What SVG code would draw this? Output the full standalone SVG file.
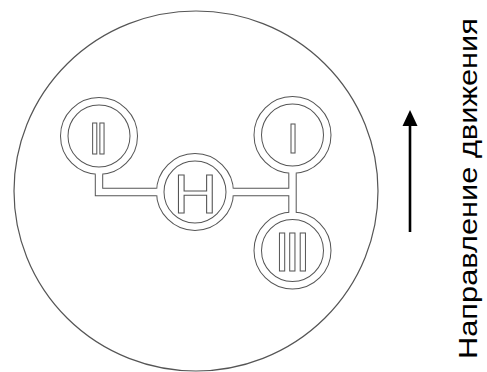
<svg xmlns="http://www.w3.org/2000/svg" width="487" height="372" viewBox="0 0 487 372">
<style>
.ringG{fill:none;stroke:#555;stroke-width:8.5}
.ringW{fill:none;stroke:#fff;stroke-width:6.5}
.conG{fill:none;stroke:#555;stroke-width:8.4;stroke-linejoin:miter}
.conW{fill:none;stroke:#fff;stroke-width:6.4;stroke-linejoin:miter}
.glyph{font-family:"Liberation Sans",Arial,sans-serif;fill:#fff;stroke:#555;stroke-width:1;filter:url(#flat)}
.label{font-family:"Liberation Sans",Arial,sans-serif;font-size:26.5px;fill:#000}
</style>
<defs>
<filter id="flat" x="-30%" y="-30%" width="160%" height="160%"><feOffset dx="0" dy="0"/></filter>
</defs>
<rect width="487" height="372" fill="#fff"/>
<ellipse id="body" cx="196" cy="191" rx="182" ry="180" fill="none" stroke="#555" stroke-width="1.2"/>
<g id="node-II">
<circle class="ringG" cx="99" cy="136" r="34.75"/>
<circle class="ringW" cx="99" cy="136" r="34.75"/>
<text class="glyph" x="88.5 95.8" y="154" font-size="44.7">II</text>
</g>
<g id="node-N">
<circle class="ringG" cx="195" cy="192" r="34.75"/>
<circle class="ringW" cx="195" cy="192" r="34.75"/>
<text class="glyph" transform="translate(195.3,213.3) scale(1.08,1)" x="0" y="0" font-size="56" text-anchor="middle">Н</text>
</g>
<g id="node-I">
<circle class="ringG" cx="292.5" cy="135" r="34.75"/>
<circle class="ringW" cx="292.5" cy="135" r="34.75"/>
<text class="glyph" x="287" y="153.3" font-size="43.3">I</text>
</g>
<g id="node-III">
<circle class="ringG" cx="292.5" cy="250.5" r="34.75"/>
<circle class="ringW" cx="292.5" cy="250.5" r="34.75"/>
<text class="glyph" x="274.2 284.5 295" y="271" font-size="56.3">III</text>
</g>
<g id="connectors">
<path class="conG" d="M99,174.3 V192 H156.7"/>
<path class="conG" d="M292.5,173.3 V212.2"/>
<path class="conG" d="M233.3,192 H292.5"/>
<path class="conW" d="M99,170.75 V192 H160.25"/>
<path class="conW" d="M292.5,169.75 V215.75"/>
<path class="conW" d="M229.75,192 H292.5"/>
</g>
<g id="direction">
<line x1="410" y1="232" x2="410" y2="125" stroke="#000" stroke-width="2.6"/>
<path d="M402.5,126 L410,110 L417.5,126 z" fill="#000"/>
<text class="label" transform="translate(477,359) rotate(-90)" x="0" y="0" textLength="341" lengthAdjust="spacingAndGlyphs">Направление движения</text>
</g>
</svg>
